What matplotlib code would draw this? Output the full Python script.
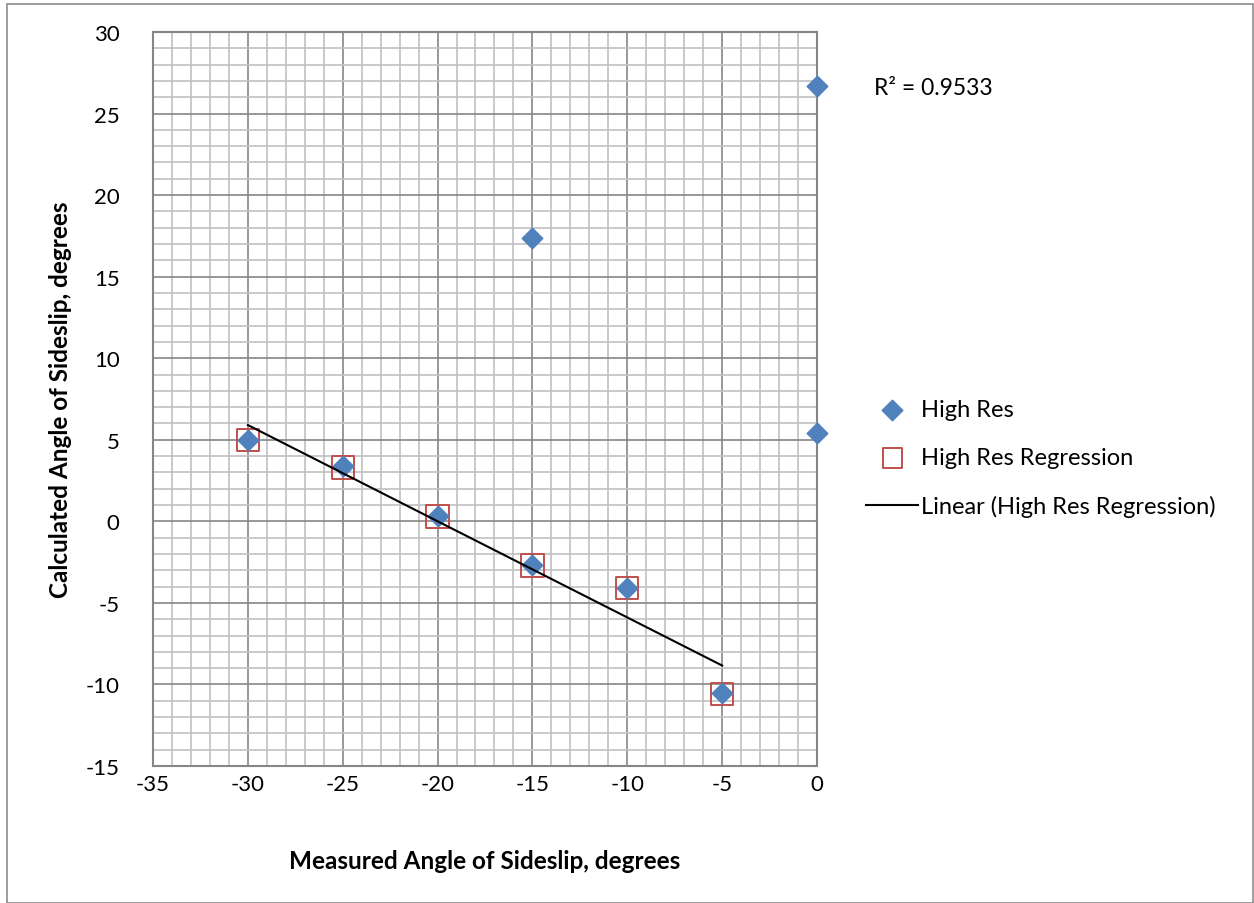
import numpy as np
import matplotlib.pyplot as plt
from matplotlib.patches import Rectangle
from matplotlib.ticker import MultipleLocator

plt.rcParams['font.family'] = ['Lato', 'DejaVu Sans']
plt.rcParams['axes.unicode_minus'] = False

# data
high_res_x = [-30, -25, -20, -15, -10, -5, -15, 0, 0]
high_res_y = [5.0, 3.4, 0.3, -2.7, -4.1, -10.5, 17.4, 26.7, 5.4]
reg_x = [-30, -25, -20, -15, -10, -5]
reg_y = [5.0, 3.3, 0.3, -2.7, -4.1, -10.6]

blue = '#4F81BD'
red = '#C0504D'

fig = plt.figure(figsize=(12.54, 9.04), dpi=100)
ax = fig.add_axes([0.122, 0.1515, 0.5295, 0.812])

# outer chart border
fig.patches.append(Rectangle((0.0056, 0.0), 0.994, 0.9945, transform=fig.transFigure,
                             fill=False, edgecolor='#8c8c8c', linewidth=1.2))

ax.set_xlim(-35, 0)
ax.set_ylim(-15, 30)
ax.xaxis.set_major_locator(MultipleLocator(5))
ax.yaxis.set_major_locator(MultipleLocator(5))
ax.xaxis.set_minor_locator(MultipleLocator(1))
ax.yaxis.set_minor_locator(MultipleLocator(1))
ax.grid(which='minor', color='#c0c0c0', linewidth=1.2, zorder=0)
ax.grid(which='major', color='#868686', linewidth=1.2, zorder=0)
ax.set_axisbelow(True)
ax.tick_params(which='both', length=0, labelsize=16)
ax.tick_params(axis='y', pad=24)
ax.tick_params(axis='x', pad=6)
for s in ax.spines.values():
    s.set_color('#868686')
    s.set_linewidth(1.5)

# trendline from regression points
m, b = np.polyfit(reg_x, reg_y, 1)
fit_x = np.array([min(reg_x), max(reg_x)])
fit_y = m * fit_x + b

ax.scatter(reg_x, reg_y, marker='s', s=260, facecolors='none', edgecolors=red,
           linewidths=1.4, label='High Res Regression', zorder=3, clip_on=False)
ax.scatter(high_res_x, high_res_y, marker='D', s=110, color=blue,
           label='High Res', zorder=4, clip_on=False)
ax.plot(fit_x, fit_y, color='black', linewidth=1.5, label='Linear (High Res Regression)', zorder=5)

fig.text(0.697, 0.902, 'R² = 0.9533', fontsize=16.5, va='center')

ax.set_xlabel('Measured Angle of Sideslip, degrees', fontsize=17.5, fontweight='bold', labelpad=39)
ax.set_ylabel('Calculated Angle of Sideslip, degrees', fontsize=17.5, fontweight='bold', labelpad=10)

h, l = ax.get_legend_handles_labels()
order = [1, 0, 2]
leg = fig.legend([h[i] for i in order], [l[i] for i in order], loc='center left',
                 bbox_to_anchor=(0.674, 0.492), frameon=False, fontsize=17,
                 labelspacing=1.15, handlelength=2.2, handletextpad=0.1)
leg.legend_handles[0].set_sizes([110])
leg.legend_handles[1].set_sizes([200])

fig.savefig('out.png', dpi=100)
